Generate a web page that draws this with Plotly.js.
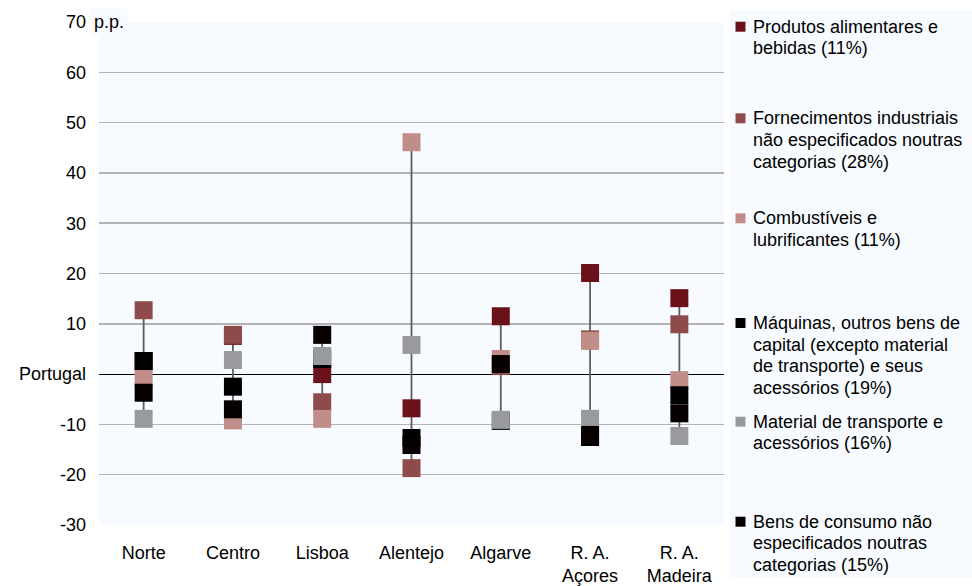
<!DOCTYPE html>
<html>
<head>
<meta charset="utf-8">
<script src="https://cdn.plot.ly/plotly-3.0.1.min.js"></script>
<style>html,body{margin:0;padding:0;background:#fff;}#chart{width:972px;height:586px;}</style>
</head>
<body>
<div id="chart"></div>
<script>
// ---- data (p.p.) ----
const categories = ['Norte', 'Centro', 'Lisboa', 'Alentejo', 'Algarve', 'R. A.<br>Açores', 'R. A.<br>Madeira'];
const produtos      = [2.6, 7.6, 0.0, -6.8, 11.5, 20.1, 15.1];
const fornecimentos = [12.7, 7.8, -5.6, -18.7, 1.6, 6.9, 9.9];
const combustiveis  = [-0.6, -9.2, -8.9, 46.1, 3.0, 6.6, -1.2];
const maquinas      = [2.6, -2.5, 3.0, -12.7, -9.3, -12.5, -4.2];
const material      = [-8.9, 2.8, 3.6, 5.8, -9.1, -8.9, -12.3];
const bens          = [-3.7, -7.0, 7.8, -14.1, 2.0, -12.1, -7.8];
const seriesNames = [
  'Produtos alimentares e<br>bebidas (11%)',
  'Fornecimentos industriais<br>não especificados noutras<br>categorias (28%)',
  'Combustíveis e<br>lubrificantes (11%)',
  'Máquinas, outros bens de<br>capital (excepto material<br>de transporte) e seus<br>acessórios (19%)',
  'Material de transporte e<br>acessórios (16%)',
  'Bens de consumo não<br>especificados noutras<br>categorias (15%)'
];
const yTickVals = [-30, -20, -10, 0, 10, 20, 30, 40, 50, 60, 70];
const yTickText = ['-30', '-20', '-10', 'Portugal', '10', '20', '30', '40', '50', '60', '70'];

// ---- styles ----
const seriesValues = [produtos, fornecimentos, combustiveis, maquinas, material, bens];
const colors = ['#6b111a', '#8f4b4b', '#c18d88', '#000000', '#999a9e', '#060000'];
const FONT = 'Liberation Sans, Arial, sans-serif';

// geometry of the plot area in pixels
const L = 99, R = 724, T = 22, B = 525;
const px2x = px => (px - L) / (R - L);
const py2y = py => 1 - (py - T) / (B - T);

// high-low connector lines from data
const lx = [], ly = [];
categories.forEach((c, i) => {
  const vals = seriesValues.map(s => s[i]);
  lx.push(c, c, null);
  ly.push(Math.min(...vals), Math.max(...vals), null);
});

const traces = [{
  type: 'scatter', mode: 'lines', x: lx, y: ly,
  line: {color: '#5e5e5e', width: 1.8}, hoverinfo: 'skip', showlegend: false
}];
seriesValues.forEach((s, k) => {
  traces.push({
    type: 'scatter', mode: 'markers', x: categories, y: s,
    name: seriesNames[k], showlegend: false,
    marker: {symbol: 'square', size: 18, color: colors[k], line: {width: 0}}
  });
});

// manual legend (aligned with the reference spacing)
const itemTop = [26.7, 118.3, 218.3, 323, 421.7, 521.7];
const lineStep = 21.67;
const shapes = [{
  type: 'rect', xref: 'paper', yref: 'paper', layer: 'below',
  x0: px2x(730), x1: px2x(972), y0: py2y(578), y1: py2y(10),
  fillcolor: '#f7fbff', line: {width: 0}
}];
const annotations = [];
seriesNames.forEach((nm, k) => {
  shapes.push({
    type: 'rect', xref: 'paper', yref: 'paper',
    x0: px2x(735.5), x1: px2x(745.5), y0: py2y(itemTop[k] + 5), y1: py2y(itemTop[k] - 5),
    fillcolor: colors[k], line: {width: 0}
  });
  nm.split('<br>').forEach((ln, j) => {
    annotations.push({
      xref: 'paper', yref: 'paper', x: px2x(752), y: py2y(itemTop[k] + j * lineStep),
      xanchor: 'left', yanchor: 'middle', text: ln, showarrow: false, borderpad: 0,
      font: {family: FONT, size: 18, color: '#000'}
    });
  });
});
// unit label next to the top tick
annotations.push({
  xref: 'paper', yref: 'y', x: px2x(89.5), y: 70, xanchor: 'left', yanchor: 'middle',
  text: 'p.p.', showarrow: false, bgcolor: '#f7fbff', borderpad: 3,
  font: {family: FONT, size: 18, color: '#000'}
});

const layout = {
  width: 972, height: 586,
  margin: {l: L, r: 972 - R, t: T, b: 586 - B, pad: 0},
  paper_bgcolor: '#ffffff', plot_bgcolor: '#f7fbff',
  font: {family: FONT, size: 18, color: '#000'},
  showlegend: false,
  xaxis: {
    type: 'category', categoryarray: categories, range: [-0.5, 6.5],
    showgrid: false, zeroline: false, showline: false, ticks: '',
    tickfont: {family: FONT, size: 18, color: '#000'}, ticklabelstandoff: 15, fixedrange: true
  },
  yaxis: {
    range: [-30, 70], tickmode: 'array', tickvals: yTickVals, ticktext: yTickText,
    showgrid: true, gridcolor: '#b3b3b3', gridwidth: 1.5,
    zeroline: true, zerolinecolor: '#000000', zerolinewidth: 1.2,
    showline: false, ticks: '', ticklabelstandoff: 12,
    tickfont: {family: FONT, size: 18, color: '#000'}, fixedrange: true
  },
  shapes: shapes,
  annotations: annotations
};

Plotly.newPlot('chart', traces, layout, {staticPlot: true, displayModeBar: false});
</script>
</body>
</html>
